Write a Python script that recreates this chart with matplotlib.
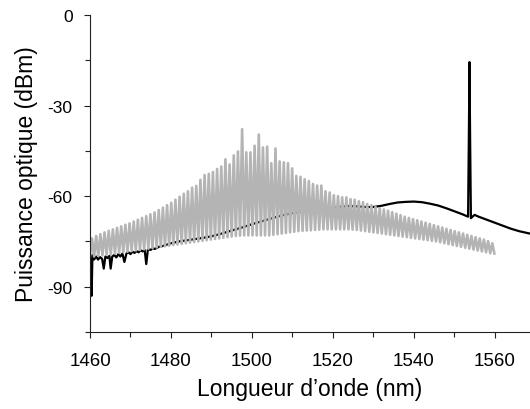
import matplotlib
matplotlib.use('Agg')
import matplotlib.pyplot as plt
import numpy as np

plt.rcParams['font.family'] = ['Liberation Sans', 'DejaVu Sans']
plt.rcParams['axes.unicode_minus'] = False

# gray comb spectrum: one top and one valley per comb tooth (dBm)
comb_start = 1460.5   # nm, first tooth
comb_step = 1.03      # nm, tooth spacing
comb_tops = [
    -74.0, -73.2, -72.6, -72.0, -71.5, -71.0, -70.5, -70.0, -69.5, -69.0,
    -68.4, -67.8, -67.2, -66.6, -66.0, -65.4, -64.6, -63.8, -63.0, -62.2,
    -61.2, -60.2, -59.2, -58.4, -57.2, -56.6, -54.6, -53.0, -52.6, -52.0,
    -51.0, -50.2, -47.8, -49.5, -46.5, -45.2, -37.8, -45.5, -45.5, -43.3,
    -39.6, -43.9, -43.6, -49.1, -44.2, -48.5, -48.8, -49.1, -50.8, -53.3,
    -53.6, -54.4, -55.0, -56.0, -56.5, -56.5, -58.4, -58.8, -59.7, -60.0,
    -60.4, -60.4, -61.0, -61.2, -61.7, -62.0, -62.6, -63.0, -63.6, -64.0,
    -64.4, -64.8, -65.3, -65.8, -66.3, -66.8, -67.2, -67.6, -68.0, -68.4,
    -68.8, -69.2, -69.6, -70.0, -70.4, -70.8, -71.2, -71.6, -72.0, -72.4,
    -72.8, -73.2, -73.6, -74.0, -74.4, -74.9, -75.6,
]
comb_valleys = [
    -80.0, -79.8, -79.6, -79.4, -79.2, -79.0, -78.8, -78.6, -78.4, -78.2,
    -78.0, -77.8, -77.6, -77.4, -77.2, -77.0, -76.8, -76.6, -76.4, -76.2,
    -76.0, -75.8, -75.6, -75.4, -75.2, -75.0, -74.8, -74.6, -74.4, -74.2,
    -74.0, -73.8, -73.6, -73.4, -73.2, -73.1, -73.0, -73.0, -73.0, -73.0,
    -73.0, -73.0, -73.0, -72.8, -72.6, -72.4, -72.2, -72.0, -71.8, -71.6,
    -71.5, -71.4, -71.3, -71.2, -71.1, -71.0, -71.0, -71.0, -71.0, -71.0,
    -71.0, -71.0, -71.1, -71.2, -71.4, -71.6, -71.8, -72.0, -72.2, -72.4,
    -72.6, -72.8, -73.0, -73.2, -73.4, -73.6, -73.8, -74.0, -74.2, -74.4,
    -74.6, -74.8, -75.0, -75.3, -75.6, -75.9, -76.2, -76.5, -76.8, -77.1,
    -77.4, -77.7, -78.0, -78.3, -78.6, -78.9, -79.0,
]
comb_first_valley = -80.0

# black spectrum (nm, dBm)
black_wl = [
    1460.2, 1460.4, 1460.6, 1461.0, 1461.5, 1462.0, 1462.5, 1463.0, 1463.4, 1463.8,
    1464.3, 1464.8, 1465.1, 1465.5, 1466.0, 1466.5, 1467.0, 1467.5, 1468.0, 1468.5,
    1469.0, 1469.5, 1470.0, 1470.5, 1471.0, 1471.5, 1472.0, 1472.5, 1473.0, 1473.5,
    1473.9, 1474.3, 1475.0, 1475.5, 1476.0, 1477.0, 1478.0,
    1480, 1482, 1484, 1486, 1488, 1490, 1492, 1494, 1496, 1498,
    1500, 1502, 1504, 1506, 1508, 1510, 1512, 1514, 1516, 1518,
    1520, 1522, 1524, 1526, 1528, 1530, 1532, 1534, 1536, 1538,
    1540, 1542, 1544, 1546, 1548, 1550, 1552, 1553.4, 1553.6, 1553.75,
    1553.9, 1554.1, 1555, 1556, 1558, 1560, 1562, 1564, 1566, 1568, 1570,
]
black_db = [
    -80.0, -93.0, -79.5, -81.0, -80.0, -81.0, -80.2, -80.8, -84.0, -80.0,
    -80.5, -79.8, -84.0, -80.0, -79.5, -80.3, -79.2, -80.0, -79.0, -81.8,
    -79.0, -78.6, -79.2, -78.4, -78.8, -78.2, -78.6, -77.9, -78.3, -77.8,
    -82.5, -77.6, -77.8, -77.2, -77.5, -76.8, -76.5,
    -75.6, -75.0, -74.6, -74.2, -73.8, -73.3, -72.6, -71.8, -71.0, -70.2,
    -69.3, -68.5, -67.7, -66.9, -66.2, -65.6, -65.2, -64.9, -64.5, -64.1,
    -63.8, -63.5, -63.3, -63.4, -63.6, -63.6, -63.2, -62.6, -62.1, -61.9,
    -61.8, -62.0, -62.5, -63.1, -64.0, -65.0, -66.0, -66.8, -40.0, -15.6,
    -40.0, -67.3, -66.2, -66.8, -67.8, -68.8, -69.8, -70.8, -71.6, -72.2, -72.8,
]

yticks = [0, -30, -60, -90]
xticks = [1460, 1480, 1500, 1520, 1540, 1560]

# build the comb line: valley, top, valley, top ...
tooth_wl = comb_start + comb_step * np.arange(len(comb_tops))
gx = [comb_start - comb_step / 2]
gy = [comb_first_valley]
for w, t, v in zip(tooth_wl, comb_tops, comb_valleys):
    gx += [w, w + comb_step / 2]
    gy += [t, v]

fig = plt.figure(figsize=(5.3, 4.1), dpi=100)
ax = fig.add_axes([90 / 530, 77 / 410, 440 / 530, 317 / 410])

ax.plot(black_wl, black_db, color='black', lw=1.6, zorder=1)
ax.plot(gx, gy, color='#b4b4b4', lw=1.9, zorder=2)

ax.set_xlim(1460, 1568.7)
ax.set_ylim(-105, 0)
ax.set_xticks(xticks)
ax.set_xticks(np.arange(1470, 1570, 20), minor=True)
ax.set_yticks(yticks)
ax.set_yticks([-15, -45, -75, -105], minor=True)

for s in ['top', 'right']:
    ax.spines[s].set_visible(False)
for s in ['left', 'bottom']:
    ax.spines[s].set_linewidth(0.8)
    ax.spines[s].set_color('#222222')

ax.tick_params(axis='both', which='major', length=4.5, width=0.8, color='#222222')
ax.tick_params(axis='both', which='minor', length=3.5, width=0.8, color='#222222')
ax.tick_params(axis='x', which='major', labelsize=13.5, pad=10)
ax.tick_params(axis='y', which='major', labelsize=12.5, pad=8)

ax.set_xlabel('Longueur d\u2019onde (nm)', fontsize=16.5, labelpad=6)
ax.set_ylabel('Puissance optique (dBm)', fontsize=16.5, labelpad=7)

fig.savefig('out.png', dpi=100)
